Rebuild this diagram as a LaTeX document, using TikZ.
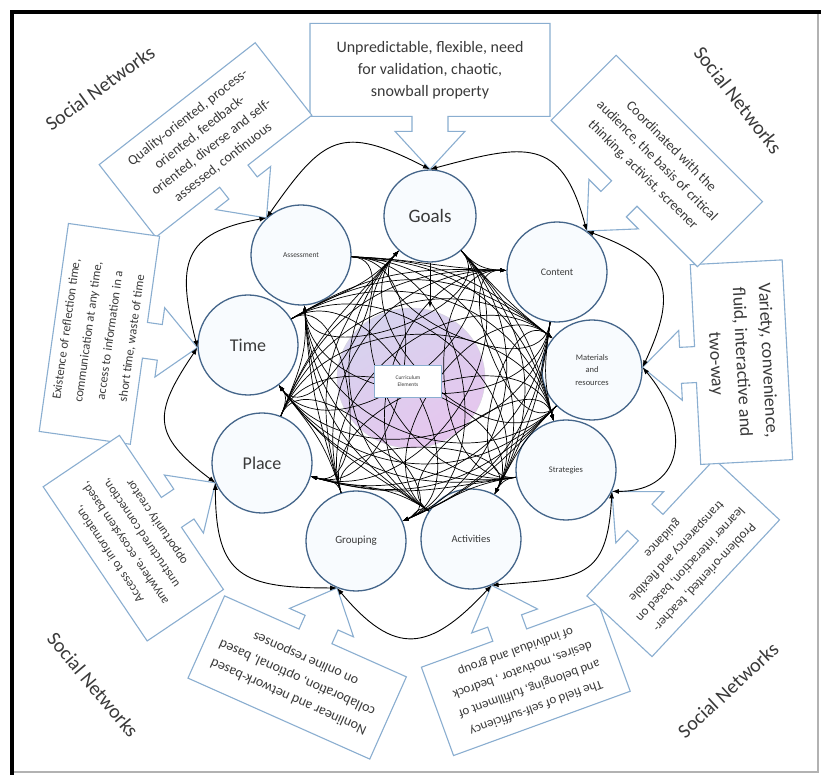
\documentclass[tikz,border=0pt]{standalone}
\usepackage{fontspec}
\setmainfont{Carlito}
\usetikzlibrary{arrows.meta,shapes.geometric}
\definecolor{cobl}{HTML}{8AAED0}
\definecolor{cirdr}{HTML}{44658A}
\definecolor{cirfill}{HTML}{F8FBFE}
\definecolor{lav}{HTML}{D6D3EE}
\definecolor{pinkp}{HTML}{E6C6EE}
\definecolor{txt}{HTML}{3A3A3A}
\newcommand{\mycallout}[8]{%
\begin{scope}[shift={(#2)}, rotate=#3]
\draw[cobox] (0,0) -- (-35,38) -- (-18,38) -- (-18,53) -- ({-(#4)/2},53) -- ({-(#4)/2},{53+#5}) -- ({(#4)/2},{53+#5}) -- ({(#4)/2},53) -- (18,53) -- (18,38) -- (35,38) -- cycle;
\node[cotext, rotate=#3, font=\fontsize{#6}{#7}\selectfont] (#1) at (0,{53+(#5)/2}) {#8};
\end{scope}}
\begin{document}
\begin{tikzpicture}[x=1pt,y=1pt,
  cobox/.style={draw=cobl, line width=1.1pt, fill=white, line join=miter},
  cotext/.style={align=center, text=txt, inner sep=0pt},
  circ/.style={circle, draw=cirdr, line width=1.3pt, fill=cirfill, minimum size=100pt, inner sep=0pt, align=center, text=txt},
  sn/.style={text=txt, font=\fontsize{20}{24}\selectfont},
  loopar/.style={draw=black, line width=0.9pt, {Latex[length=7pt,width=5pt]}-{Latex[length=7pt,width=5pt]}, looseness=1.5},
  tangle/.style={draw=black, line width=0.7pt, -{Latex[length=6pt,width=4pt]}}]
\useasboundingbox (0,0) rectangle (821,775);
\fill[white] (0,0) rectangle (821,775);

% circles
\node[circ, font=\fontsize{19}{22}\selectfont, minimum size=92pt] (goals) at (430,559) {Goals};
\node[circ, font=\fontsize{10}{12}\selectfont] (content) at (557,503) {Content};
\node[circ, font=\fontsize{8.5}{12.5}\selectfont] (mat) at (592,405) {Materials\\and\\resources};
\node[circ, font=\fontsize{8.5}{12}\selectfont] (strat) at (566,305) {Strategies};
\node[circ, font=\fontsize{10.5}{12}\selectfont] (act) at (471,236) {Activities};
\node[circ, font=\fontsize{11}{12}\selectfont] (group) at (356,234) {Grouping};
\node[circ, font=\fontsize{18}{22}\selectfont] (place) at (262,312) {Place};
\node[circ, font=\fontsize{18}{22}\selectfont] (time) at (248,430) {Time};
\node[circ, font=\fontsize{7.5}{10}\selectfont] (assess) at (301,520) {Assessment};

\coordinate (j1) at (goals.90);
\coordinate (j2) at (assess.133);
\coordinate (j3) at (time.183);
\coordinate (j4) at (place.203);
\coordinate (j5) at (group.248);
\coordinate (j6) at (act.294);
\coordinate (j7) at (strat.335);
\coordinate (j8) at (mat.3);
\coordinate (j9) at (content.54);

% callouts
\mycallout{cgoals}{j1}{0}{240}{93}{16}{22}{Unpredictable, flexible, need\\for validation, chaotic,\\snowball property}
\mycallout{cassess}{j2}{38}{198}{92}{14}{19}{Quality-oriented, process-\\oriented, feedback-\\oriented, diverse and self-\\assessed, continuous}
\mycallout{ctime}{j3}{82}{210}{92}{12.5}{22}{Existence of reflection time,\\communication at any time,\\access to information in a\\short time, waste of time}
\mycallout{cplace}{j4}{124}{186}{92}{12.5}{19}{Access to information,\\anywhere, ecosystem based,\\unstructured connection,\\opportunity creator}
\mycallout{cgroup}{j5}{156}{199}{90}{14}{21}{Nonlinear and network-based\\collaboration, optional, based\\on online responses}
\mycallout{cact}{j6}{200}{188}{94}{13}{20}{The field of self-sufficiency\\and belonging, fulfillment of\\desires, motivator , bedrock\\of individual and group}
\mycallout{cstrat}{j7}{227}{187}{89}{13}{19}{Problem-oriented, teacher-\\learner interaction, based on\\transparency and flexible\\guidance}
\mycallout{cmat}{j8}{-87}{200}{92}{18}{26}{Variety, convenience,\\fluid, interactive and\\two-way}
\mycallout{ccontent}{j9}{-45}{207}{92}{14}{20}{Coordinated with the\\audience, the basis of critical\\thinking, activist, screener}

% Social Networks labels
\node[sn, rotate=36] (sn1) at (100,687) {Social Networks};
\node[sn, rotate=-52] (sn2) at (738,675) {Social Networks};
\node[sn, rotate=-50] (sn3) at (93,90) {Social Networks};
\node[sn, rotate=43] (sn4) at (728,85) {Social Networks};

% core
\node[ellipse, minimum width=148pt, minimum height=140pt, draw=lav!70!black!40, top color=lav, bottom color=pinkp, shading angle=30] (core) at (411,397) {};

% outer loops
\draw[loopar] (j2) to[out=55, in=153] (j1);
\draw[loopar] (j1) to[out=15, in=105] (j9);
\draw[loopar] (j9) to[out=-20, in=65] (j8);
\draw[loopar] (j8) to[out=-50, in=0] (j7);
\draw[loopar] (j7) to[out=-93, in=5] (j6);
\draw[loopar] (j6) to[out=-133, in=-50] (j5);
\draw[loopar] (j5) to[out=180, in=-90] (j4);
\draw[loopar] (j4) to[out=143, in=-124] (j3);
\draw[loopar] (j3) to[out=104, in=190] (j2);

% tangle of interconnections
\foreach \i/\na/\aa in {1/goals/-90, 2/content/220.4, 3/mat/183.5, 4/strat/146.5, 5/act/104.5, 6/group/65.3, 7/place/26.3, 8/time/-10.9, 9/assess/-44.1}{
  \foreach \j/\nb/\ab in {1/goals/-90, 2/content/220.4, 3/mat/183.5, 4/strat/146.5, 5/act/104.5, 6/group/65.3, 7/place/26.3, 8/time/-10.9, 9/assess/-44.1}{
    \ifnum\i=\j\else
      \pgfmathsetmacro\oa{\aa+42}
      \pgfmathsetmacro\ib{\ab-42}
      \draw[tangle] (\na) to[out=\oa, in=\ib, looseness=1.1] (\nb);
    \fi
  }
}

\draw[tangle] (goals.south) -- (goals.south |- core.north);

\node[draw=cobl, line width=0.8pt, fill=white, minimum width=67pt, minimum height=32pt, align=center, text=txt, font=\fontsize{5.5}{7}\selectfont] (ce) at (408,394) {Curriculum\\Elements};

% frame
\draw[gray!60, line width=1.2pt] (12,3) rectangle (818,763);
\draw[black, line width=3.5pt] (12,0) -- (12,763) -- (821,763);
\end{tikzpicture}
\end{document}
